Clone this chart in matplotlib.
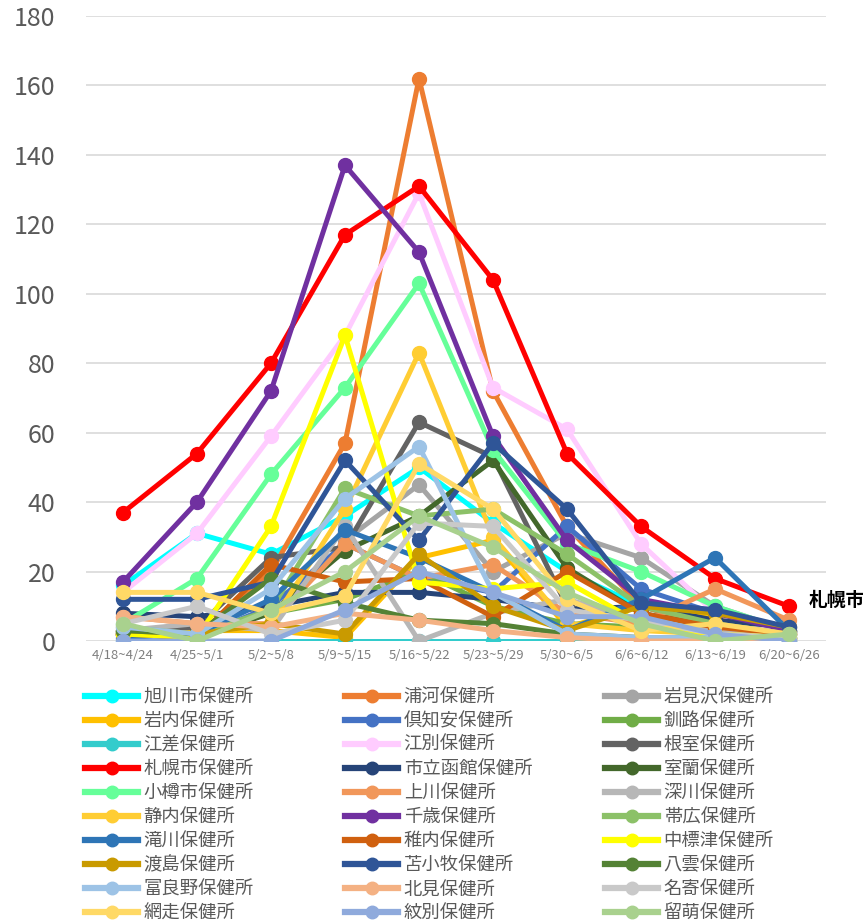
import matplotlib
matplotlib.use("Agg")
import matplotlib.pyplot as plt
from matplotlib.lines import Line2D

plt.rcParams['font.family'] = ['Noto Sans CJK JP', 'DejaVu Sans']

weeks = ['4/18~4/24', '4/25~5/1', '5/2~5/8', '5/9~5/15', '5/16~5/22',
         '5/23~5/29', '5/30~6/5', '6/6~6/12', '6/13~6/19', '6/20~6/26']

names = ['旭川市保健所', '浦河保健所', '岩見沢保健所',
         '岩内保健所', '倶知安保健所', '釧路保健所',
         '江差保健所', '江別保健所', '根室保健所',
         '札幌市保健所', '市立函館保健所', '室蘭保健所',
         '小樽市保健所', '上川保健所', '深川保健所',
         '静内保健所', '千歳保健所', '帯広保健所',
         '滝川保健所', '稚内保健所', '中標津保健所',
         '渡島保健所', '苫小牧保健所', '八雲保健所',
         '富良野保健所', '北見保健所', '名寄保健所',
         '網走保健所', '紋別保健所', '留萌保健所']

colors = ['#00FFFF', '#ED7D31', '#A5A5A5',
          '#FFC000', '#4472C4', '#70AD47',
          '#33CCCC', '#FFCCFF', '#636363',
          '#FF0000', '#264478', '#43682B',
          '#66FF99', '#F1975A', '#B7B7B7',
          '#FFCD33', '#7030A0', '#8CC168',
          '#2E75B6', '#D0600F', '#FFFF00',
          '#C99A00', '#2F5597', '#548235',
          '#9DC3E6', '#F4B183', '#C9C9C9',
          '#FFD966', '#8FAADC', '#A9D18E']

asahikawa = [16, 31, 25, 36, 50, 34, 20, 10, 4, 1]
urakawa = [2, 1, 20, 57, 162, 72, 33, 10, 4, 2]
iwamizawa = [2, 3, 5, 29, 45, 20, 31, 24, 10, 3]
iwanai = [2, 3, 3, 1, 24, 29, 4, 10, 7, 3]
kutchan = [2, 1, 10, 28, 18, 14, 33, 15, 8, 3]
kushiro = [3, 2, 8, 12, 20, 10, 5, 4, 3, 1]
esashi = [0, 0, 0, 0, 0, 0, 0, 0, 0, 0]
ebetsu = [14, 31, 59, 88, 129, 73, 61, 28, 8, 2]
nemuro = [3, 4, 24, 27, 63, 53, 10, 5, 2, 1]
sapporo = [37, 54, 80, 117, 131, 104, 54, 33, 18, 10]
hakodate = [8, 7, 10, 14, 14, 12, 9, 10, 6, 4]
muroran = [2, 1, 8, 26, 36, 52, 21, 8, 4, 2]
otaru = [5, 18, 48, 73, 103, 55, 28, 20, 10, 3]
kamikawa = [7, 5, 5, 28, 18, 22, 8, 5, 15, 6]
fukagawa = [3, 5, 3, 33, 0, 8, 12, 6, 3, 1]
shizunai = [2, 2, 5, 38, 83, 30, 5, 3, 2, 1]
chitose = [17, 40, 72, 137, 112, 59, 29, 12, 8, 3]
obihiro = [4, 2, 9, 44, 36, 38, 25, 10, 5, 2]
takikawa = [1, 2, 12, 32, 24, 14, 3, 12, 24, 3]
wakkanai = [2, 1, 22, 17, 18, 7, 20, 8, 4, 2]
nakashibetsu = [2, 1, 33, 88, 17, 15, 17, 5, 2, 1]
oshima = [3, 2, 5, 2, 25, 10, 3, 10, 8, 4]
tomakomai = [12, 12, 17, 52, 29, 57, 38, 11, 9, 4]
yakumo = [3, 2, 18, 11, 6, 5, 2, 1, 1, 0]
furano = [4, 2, 15, 41, 56, 14, 2, 1, 1, 0]
kitami = [7, 5, 4, 8, 6, 3, 1, 0, 0, 1]
nayoro = [5, 10, 2, 6, 34, 33, 9, 6, 2, 1]
abashiri = [14, 14, 8, 13, 51, 38, 12, 3, 5, 2]
monbetsu = [0, 0, 0, 9, 20, 14, 7, 7, 2, 0]
rumoi = [5, 0, 9, 20, 36, 27, 14, 5, 0, 2]

series = [asahikawa, urakawa, iwamizawa, iwanai, kutchan, kushiro,
          esashi, ebetsu, nemuro, sapporo, hakodate, muroran,
          otaru, kamikawa, fukagawa, shizunai, chitose, obihiro,
          takikawa, wakkanai, nakashibetsu, oshima, tomakomai, yakumo,
          furano, kitami, nayoro, abashiri, monbetsu, rumoi]

fig = plt.figure(figsize=(8.63, 9.24), dpi=100)
ax = fig.add_axes([86 / 863, 1 - 641 / 924, 740 / 863, 625 / 924])

x = list(range(len(weeks)))
for name, col, vals in zip(names, colors, series):
    ax.plot(x, vals, color=col, lw=3.6, marker='o', markersize=10,
            solid_joinstyle='round', label=name)

ax.set_xlim(-0.5, len(weeks) - 0.5)
ax.set_ylim(0, 180)
ax.set_yticks(range(0, 181, 20))
ax.set_xticks(x)
ax.set_xticklabels(weeks, fontsize=9.5, color='#7F7F7F')
ax.tick_params(axis='y', labelsize=18, labelcolor='#595959', length=0, pad=22)
ax.tick_params(axis='x', length=0, pad=6)
ax.grid(axis='y', color='#D9D9D9', lw=1.2)
ax.set_axisbelow(True)
for s in ax.spines.values():
    s.set_visible(False)

ax.annotate('札幌市', xy=(9, sapporo[-1]), xytext=(14, 4),
            textcoords='offset points', va='center', ha='left',
            fontsize=13.5, fontweight='bold', color='black',
            annotation_clip=False)

# legend: 3 fixed columns, entries read left-to-right
col_x = [85, 345, 605]
for c in range(3):
    hs = []
    for i in range(c, len(names), 3):
        hs.append(Line2D([], [], color=colors[i], lw=4.5, marker='o', markersize=9))
    leg = fig.legend(hs, names[c::3], loc='upper left',
                     bbox_to_anchor=(col_x[c] / 863, 1 - 688 / 924),
                     frameon=False, fontsize=13.2, handlelength=2.9,
                     handletextpad=0.3, labelspacing=0.33,
                     borderpad=0, borderaxespad=0)
    for t in leg.get_texts():
        t.set_color('#595959')

fig.savefig('out.png', dpi=100)
